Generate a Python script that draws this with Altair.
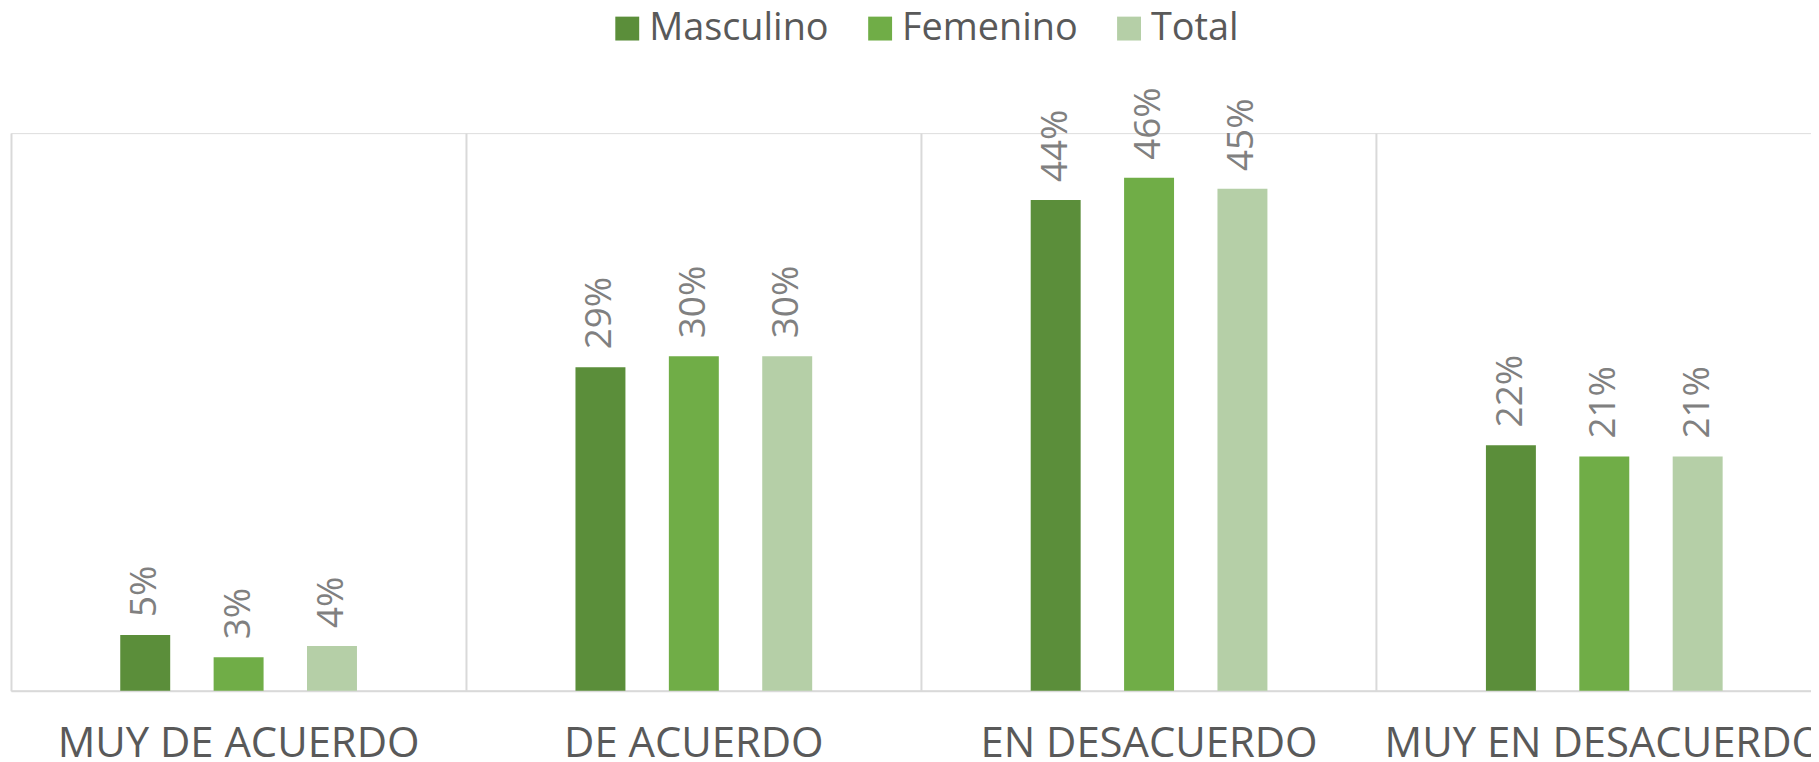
import altair as alt
import pandas as pd

categories = ["MUY DE ACUERDO", "DE ACUERDO", "EN DESACUERDO", "MUY EN DESACUERDO"]
series = ["Masculino", "Femenino", "Total"]
masculino = [5, 29, 44, 22]
femenino = [3, 30, 46, 21]
total = [4, 30, 45, 21]
colors = ["#5B8E3A", "#70AD47", "#B5CFA7"]

rows = []
for i, c in enumerate(categories):
    for s, vals in zip(series, [masculino, femenino, total]):
        rows.append({"cat": c, "serie": s, "valor": vals[i], "label": f"{vals[i]}%"})
df = pd.DataFrame(rows)

FONT = "Open Sans"
offset_domain = ["_l"] + series + ["_r"]

x_scale = alt.Scale(domain=categories, paddingInner=0, paddingOuter=0)
x_enc = alt.X("cat:N", sort=categories, scale=x_scale,
              axis=alt.Axis(title=None, labelAngle=0, ticks=False, grid=True, bandPosition=0,
                            gridColor="#D9D9D9", gridWidth=2, domainColor="#D9D9D9", domainWidth=2,
                            labelFont=FONT, labelFontSize=42, labelColor="#595959",
                            labelBaseline="alphabetic", labelPadding=66, labelLimit=0,
                            labelOverlap=False, labelBound=False, labelFlush=False))
xo_enc = alt.XOffset("serie:N",
                     scale=alt.Scale(domain=offset_domain, paddingInner=0.465, paddingOuter=0.17))
y_enc = alt.Y("valor:Q", scale=alt.Scale(domain=[0, 50], nice=False, zero=True), axis=None)

bars = alt.Chart(df).mark_bar().encode(
    x=x_enc,
    xOffset=xo_enc,
    y=y_enc,
    color=alt.Color("serie:N", sort=series,
                    scale=alt.Scale(domain=series, range=colors),
                    legend=alt.Legend(title=None, orient="none", direction="horizontal",
                                      legendX=600, legendY=-124,
                                      symbolType="square", symbolSize=576, symbolStrokeWidth=0,
                                      labelFont=FONT, labelFontSize=38, labelColor="#595959",
                                      labelOffset=3, columnPadding=32, labelLimit=0)),
)

labels = alt.Chart(df).mark_text(angle=270, align="left", baseline="middle", dx=18,
                                 font=FONT, fontSize=37, color="#808080").encode(
    x=alt.X("cat:N", sort=categories, scale=x_scale),
    xOffset=xo_enc,
    y=y_enc,
    text="label:N",
)

chart = alt.layer(bars, labels).properties(
    width=1829, height=560,
    autosize=alt.AutoSizeParams(type="none"),
    padding={"left": 3, "top": 124, "right": -21, "bottom": 70},
).configure_view(stroke=None).configure(background="white")

chart.save("out.html", embed_options={"renderer": "svg", "actions": False})
